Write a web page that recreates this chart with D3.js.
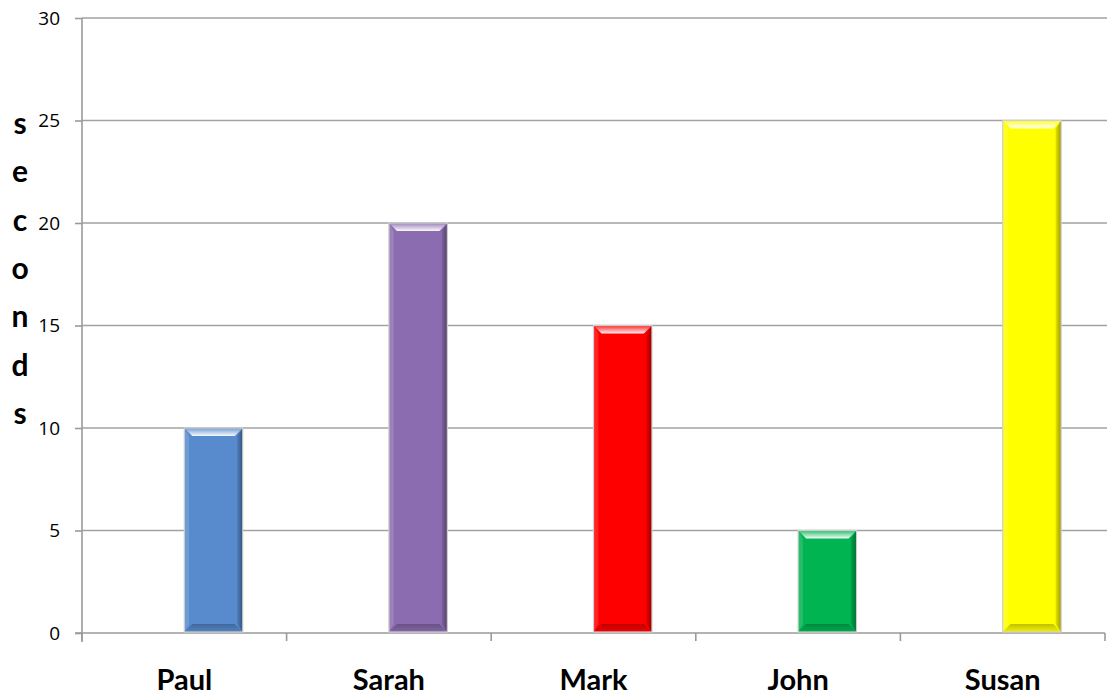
<!DOCTYPE html>
<html><head><meta charset="utf-8">
<script src="https://cdn.jsdelivr.net/npm/d3@7"></script>
<style>
html,body{margin:0;padding:0;background:#fff;}
svg{display:block;}
</style></head>
<body>
<svg id="chart" width="1107" height="697"></svg>
<script>
const names = ["Paul","Sarah","Mark","John","Susan"];
const seconds = [10,20,15,5,25];
const colors = ["#588BCD","#8B6CB0","#FF0000","#00B452","#FFFF00"];
const yTicks = [0,5,10,15,20,25,30];
const axisTitle = "seconds";

(function(){
const svg = d3.select("#chart");
const defs = svg.append("defs");
const gTop = defs.append("linearGradient").attr("id","topHi").attr("x1",0).attr("y1",0).attr("x2",0).attr("y2",1);
gTop.append("stop").attr("offset","0%").attr("stop-color","#fff").attr("stop-opacity",0.15);
gTop.append("stop").attr("offset","100%").attr("stop-color","#fff").attr("stop-opacity",0.95);
const gRight = defs.append("linearGradient").attr("id","rightDk").attr("x1",0).attr("y1",0).attr("x2",1).attr("y2",0);
gRight.append("stop").attr("offset","0%").attr("stop-color","#000").attr("stop-opacity",0.1);
gRight.append("stop").attr("offset","100%").attr("stop-color","#000").attr("stop-opacity",0.4);
const gBot = defs.append("linearGradient").attr("id","botDk").attr("x1",0).attr("y1",0).attr("x2",0).attr("y2",1);
gBot.append("stop").attr("offset","0%").attr("stop-color","#000").attr("stop-opacity",0.25);
gBot.append("stop").attr("offset","100%").attr("stop-color","#000").attr("stop-opacity",0.05);

const pLeft = 82, pRight = 1105, pTop = 18, pBottom = 633;
const x = d3.scaleBand().domain(names).range([pLeft, pRight]);
const y = d3.scaleLinear().domain([0,30]).range([pBottom, pTop]);

svg.append("g").selectAll("line").data(yTicks.filter(d=>d>0)).join("line")
  .attr("x1", pLeft).attr("x2", 1107)
  .attr("y1", d=>y(d)).attr("y2", d=>y(d))
  .attr("stroke", "#a2a2a2").attr("stroke-width", 1.6);

const ya = svg.append("g").attr("transform", `translate(${pLeft},0)`)
  .call(d3.axisLeft(y).tickValues(yTicks).tickSize(7).tickSizeOuter(0).tickPadding(15));
ya.select(".domain").attr("stroke", "#9a9a9a").attr("stroke-width", 1.6)
  .attr("d", `M0,${pTop}V${pBottom+9}`);
ya.selectAll(".tick line").attr("stroke", "#9a9a9a").attr("stroke-width", 1.6);
ya.selectAll(".tick text").attr("font-family", "Open Sans, sans-serif")
  .attr("font-size", 19).attr("fill", "#000").attr("dy", "0.34em");

const xa = svg.append("g").attr("transform", `translate(0,${pBottom})`)
  .call(d3.axisBottom(x).tickSize(0).tickPadding(54));
xa.select(".domain").attr("stroke", "#9a9a9a").attr("stroke-width", 1.6)
  .attr("d", `M${pLeft-7},0H${pRight}`);
xa.selectAll(".tick text").attr("font-family", "Lato, sans-serif")
  .attr("font-weight", "bold").attr("font-size", 29).attr("fill", "#000")
  .attr("dy", "0.1em");
const bounds = names.map(n => x(n)).concat([pRight]);
svg.append("g").selectAll("line").data(bounds).join("line")
  .attr("x1", d=>d).attr("x2", d=>d).attr("y1", pBottom).attr("y2", pBottom+8)
  .attr("stroke", "#9a9a9a").attr("stroke-width", 1.6);

const bw = x.bandwidth();
const barW = bw / 3.5;
const bars = svg.append("g").selectAll("g").data(names).join("g");
const bv = 8;
bars.each(function(n, i){
  const g = d3.select(this);
  const x0 = x(n) + bw * 0.5;
  const y0 = y(seconds[i]);
  const h = y(0) - y0 - 1;
  const w = barW;
  g.append("rect").attr("x", x0).attr("y", y0).attr("width", w).attr("height", h)
    .attr("fill", colors[i]);
  const poly = (pts, fill, op) => g.append("polygon")
    .attr("points", pts.map(p=>p.join(",")).join(" "))
    .attr("fill", fill).attr("fill-opacity", op);
  poly([[x0,y0],[x0+w,y0],[x0+w-bv,y0+bv],[x0+bv,y0+bv]], "url(#topHi)", 1);
  poly([[x0,y0],[x0+bv*0.6,y0+bv],[x0+bv*0.6,y0+h-bv],[x0,y0+h]], "#fff", 0.14);
  poly([[x0+w,y0],[x0+w,y0+h],[x0+w-bv*0.7,y0+h-bv],[x0+w-bv*0.7,y0+bv]], "url(#rightDk)", 1);
  poly([[x0,y0+h],[x0+w,y0+h],[x0+w-bv,y0+h-bv],[x0+bv,y0+h-bv]], "url(#botDk)", 1);
  g.append("rect").attr("x", x0).attr("y", y0).attr("width", w).attr("height", h)
    .attr("fill", "none").attr("stroke", "#cfcfcf").attr("stroke-width", 1.2);
});

svg.append("g").selectAll("text").data(axisTitle.split("")).join("text")
  .attr("x", 20).attr("y", (d,i)=> 134 + i*48.3)
  .attr("text-anchor", "middle")
  .attr("font-family", "Lato, sans-serif").attr("font-weight", "bold")
  .attr("font-size", 30).attr("fill", "#000")
  .text(d=>d);
})();
</script>
</body></html>
